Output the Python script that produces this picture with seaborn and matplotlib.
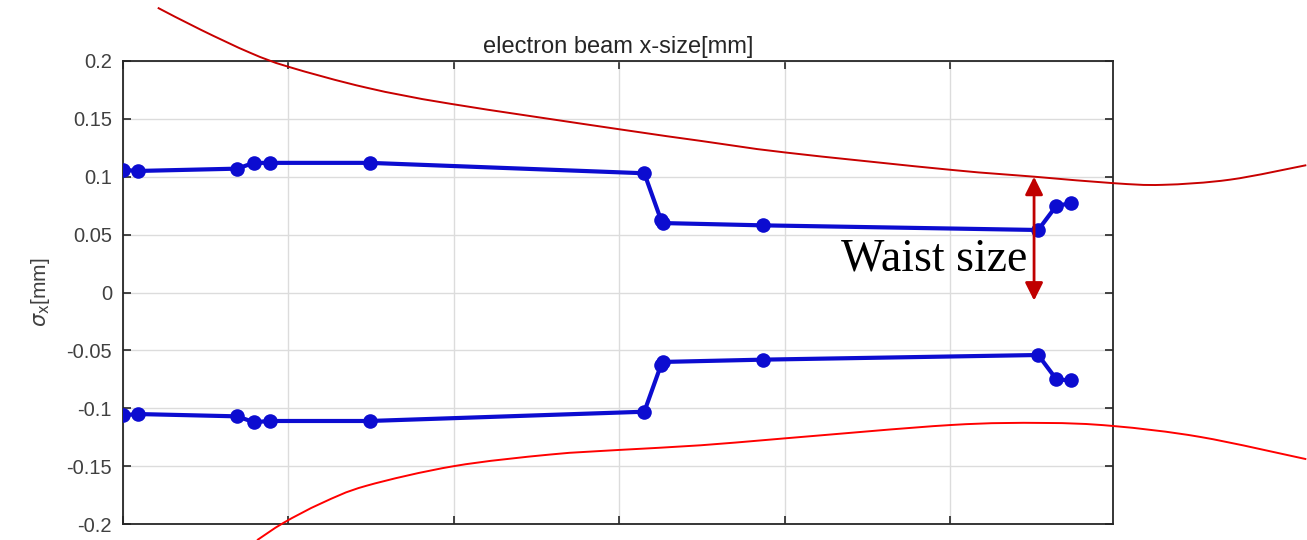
import numpy as np
import pandas as pd
import matplotlib
matplotlib.use("Agg")
import matplotlib.pyplot as plt
from matplotlib.path import Path
from matplotlib.patches import PathPatch
import seaborn as sns

# ---- data ----
position = [0.0, 0.09, 0.69, 0.79, 0.89, 1.49, 3.15, 3.25, 3.26, 3.87, 5.53, 5.64, 5.73]
sigma_upper = [0.106, 0.105, 0.107, 0.112, 0.112, 0.112, 0.103, 0.063, 0.060, 0.058, 0.054, 0.075, 0.077]
sigma_lower = [-0.106, -0.105, -0.107, -0.112, -0.111, -0.111, -0.103, -0.063, -0.060, -0.058, -0.054, -0.075, -0.076]

# hand-drawn envelope annotation (in data units, extends beyond the axes)
env_upper_x = [0.21, 0.47, 0.77, 1.00, 1.47, 1.98, 3.00, 3.49, 4.00, 5.00, 5.51, 5.98, 6.28, 6.69, 7.15]
env_upper_y = [0.246, 0.227, 0.207, 0.195, 0.177, 0.163, 0.141, 0.131, 0.121, 0.106, 0.100, 0.0945, 0.093, 0.0975, 0.110]
env_lower_x = [0.81, 0.97, 1.20, 1.47, 2.00, 2.58, 3.00, 3.49, 4.00, 5.00, 5.56, 5.98, 6.51, 7.15]
env_lower_y = [-0.214, -0.199, -0.182, -0.167, -0.150, -0.140, -0.136, -0.132, -0.126, -0.1145, -0.1127, -0.1153, -0.1248, -0.144]

waist_x = 5.505
waist_top = 0.100
waist_bottom = -0.007

y_ticks = [-0.2, -0.15, -0.1, -0.05, 0, 0.05, 0.1, 0.15, 0.2]
y_tick_labels = ["-0.2", "-0.15", "-0.1", "-0.05", "0", "0.05", "0.1", "0.15", "0.2"]
x_ticks = [0, 1, 2, 3, 4, 5]

df = pd.DataFrame({"pos": position, "upper": sigma_upper, "lower": sigma_lower})

sns.set_theme(style="whitegrid")
plt.rcParams["font.family"] = ["Liberation Sans", "DejaVu Sans"]

fig = plt.figure(figsize=(13.07, 5.40), dpi=100)
ax = fig.add_axes([123 / 1307, 1 - 524 / 540, (1113 - 123) / 1307, (524 - 61) / 540])

blue = "#0c0cd0"
for col in ["upper", "lower"]:
    sns.lineplot(data=df, x="pos", y=col, ax=ax, color=blue, linewidth=3.0,
                 marker="o", markersize=10.5, markeredgewidth=0, estimator=None,
                 sort=False, zorder=3)

ax.set_xlim(0, 5.982)
ax.set_ylim(-0.2, 0.2)
ax.set_xticks(x_ticks)
ax.set_xticklabels([])
ax.set_yticks(y_ticks)
ax.set_yticklabels(y_tick_labels)
ax.set_xlabel("")
ax.set_ylabel(r"$\sigma_{\rm x}$[mm]", fontsize=15, color="#404040", labelpad=10)
ax.set_title("electron beam x-size[mm]", fontsize=17, color="#262626", pad=6)

ax.set_facecolor("white")
ax.grid(True, color="#dcdcdc", linewidth=1.0)
for s in ax.spines.values():
    s.set_visible(True)
    s.set_color("#262626")
    s.set_linewidth(1.3)
ax.tick_params(axis="both", direction="in", length=6, width=1.2, color="#262626",
               top=True, right=True, bottom=True, left=True,
               labelsize=14.5, labelcolor="#404040", pad=8)


def smooth_path(xs, ys):
    """Catmull-Rom style Bezier path passing through the given points."""
    p = np.column_stack([xs, ys]).astype(float)
    verts = [p[0]]
    codes = [Path.MOVETO]
    n = len(p)
    for i in range(n - 1):
        p0 = p[i - 1] if i > 0 else p[i]
        p1, p2 = p[i], p[i + 1]
        p3 = p[i + 2] if i + 2 < n else p[i + 1]
        c1 = p1 + (p2 - p0) / 6.0
        c2 = p2 - (p3 - p1) / 6.0
        verts += [c1, c2, p2]
        codes += [Path.CURVE4] * 3
    return Path(verts, codes)


for xs, ys, c in [(env_upper_x, env_upper_y, "#c80000"), (env_lower_x, env_lower_y, "#ff0000")]:
    patch = PathPatch(smooth_path(xs, ys), facecolor="none", edgecolor=c,
                      linewidth=1.4, transform=ax.transData, clip_on=False, zorder=4)
    ax.add_patch(patch)

# waist-size arrow
ax.annotate("", xy=(waist_x, waist_top), xytext=(waist_x, waist_bottom),
            arrowprops=dict(arrowstyle="<|-|>,head_length=0.9,head_width=0.45",
                            color="#c00000", linewidth=2.0, shrinkA=0, shrinkB=0),
            zorder=5)
ax.text(waist_x - 0.04, 0.029, "Waist size", family=["Liberation Serif", "DejaVu Serif"],
        fontsize=33, color="black", ha="right", va="center", zorder=5)

fig.savefig("out.png", dpi=100)
